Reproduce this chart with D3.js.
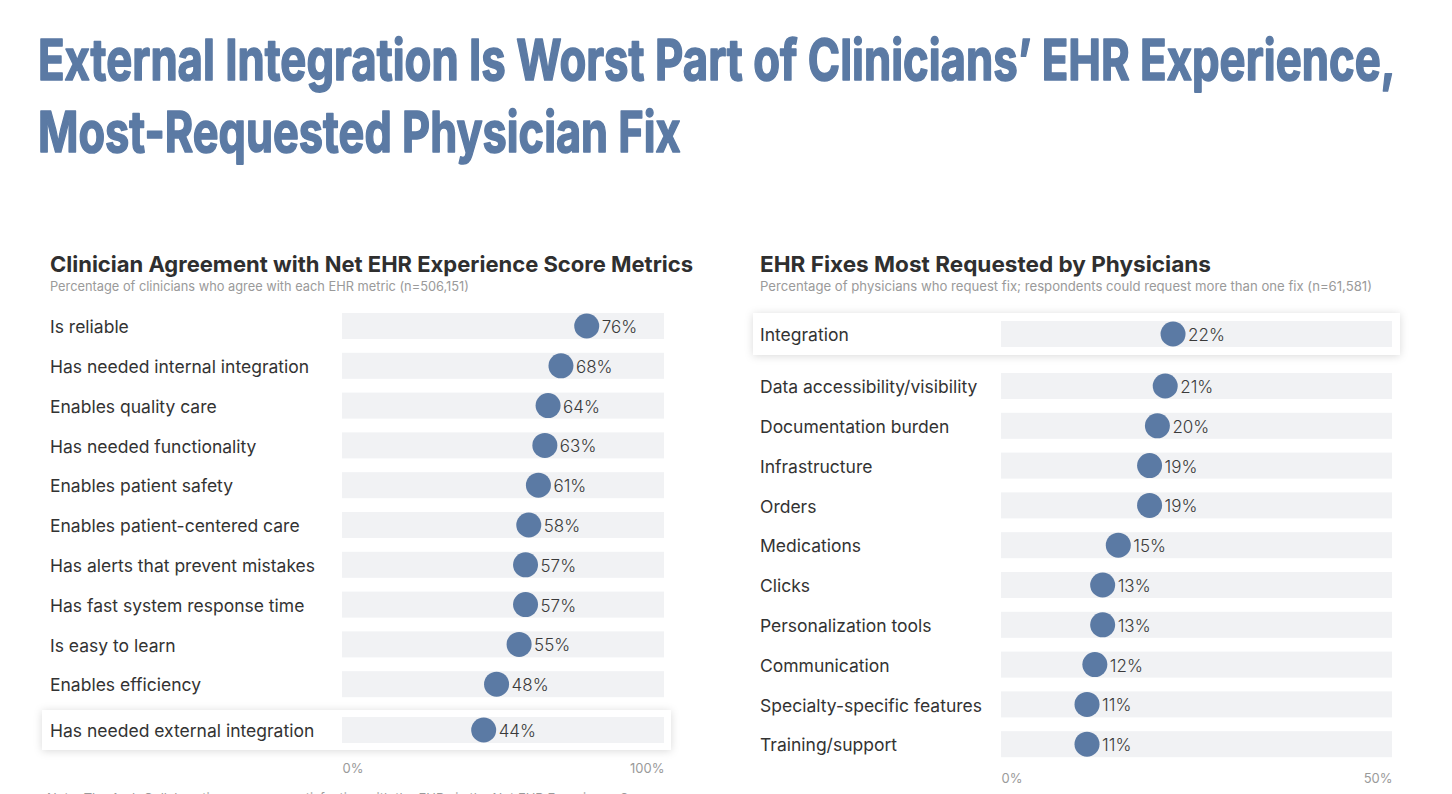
<!DOCTYPE html>
<html>
<head>
<meta charset="utf-8">
<script src="https://cdn.jsdelivr.net/npm/d3@7"></script>
<style>
  body { margin: 0; background: #fff; }
  svg text { font-family: Inter, Roboto, sans-serif; }
</style>
</head>
<body>
<svg id="chart" width="1452" height="794"></svg>
<script>
const leftLabels = ["Is reliable", "Has needed internal integration", "Enables quality care", "Has needed functionality",
  "Enables patient safety", "Enables patient-centered care", "Has alerts that prevent mistakes",
  "Has fast system response time", "Is easy to learn", "Enables efficiency", "Has needed external integration"];
const leftValues = [76, 68, 64, 63, 61, 58, 57, 57, 55, 48, 44];
const leftTicks = [0, 100];

const rightLabels = ["Integration", "Data accessibility/visibility", "Documentation burden", "Infrastructure", "Orders",
  "Medications", "Clicks", "Personalization tools", "Communication", "Specialty-specific features", "Training/support"];
const rightValues = [22, 21, 20, 19, 19, 15, 13, 13, 12, 11, 11];
const rightTicks = [0, 50];

const blue = "#5b7aa4";
const svg = d3.select("#chart");

const defs = svg.append("defs");
const f = defs.append("filter").attr("id", "shadow").attr("x", "-5%").attr("y", "-50%").attr("width", "110%").attr("height", "200%");
f.append("feDropShadow").attr("dx", 0).attr("dy", 1).attr("stdDeviation", 4).attr("flood-color", "#000").attr("flood-opacity", 0.15);

// squeeze/stretch text to a given width
function fit(sel, w) {
  sel.attr("textLength", w).attr("lengthAdjust", "spacingAndGlyphs");
}

// main title, scaled horizontally to the source width
const title = svg.append("g").attr("fill", blue).attr("stroke", blue).attr("stroke-width", 1.6)
  .attr("stroke-linejoin", "round")
  .style("font-weight", "bold").style("font-size", "57px")
  .style("font-family", "'Liberation Sans Narrow', sans-serif");
function titleLine(txt, y, w) {
  const t = title.append("text").attr("x", 0).attr("y", 0).text(txt);
  const sx = w / t.node().getComputedTextLength();
  t.attr("transform", `translate(38,${y}) scale(${sx},1)`);
}
titleLine("External Integration Is Worst Part of Clinicians’ EHR Experience,", 80, 1358);
titleLine("Most-Requested Physician Fix", 152, 643);

function panel(cfg) {
  const g = svg.append("g");
  g.append("text").attr("x", cfg.x0).attr("y", 272).attr("fill", "#2f2f2f")
    .style("font-size", "22px").style("font-weight", "bold").text(cfg.title).call(fit, cfg.titleW);
  g.append("text").attr("x", cfg.x0).attr("y", 291).attr("fill", "#9a9a9a")
    .style("font-size", "13px").text(cfg.sub).call(fit, cfg.subW);

  const x = d3.scaleLinear().domain(d3.extent(cfg.ticks)).range([cfg.bx0, cfg.bx1]);
  const rows = cfg.labels.map((l, i) => ({ label: l, value: cfg.values[i], y: cfg.y(i), hi: i === cfg.hi }));

  // highlight box behind the called-out row
  const h = rows.find(r => r.hi);
  g.append("rect").attr("x", cfg.hx0).attr("width", cfg.hx1 - cfg.hx0)
    .attr("y", h.y - cfg.hh / 2).attr("height", cfg.hh)
    .attr("fill", "#fff").attr("filter", "url(#shadow)");

  const row = g.selectAll(".row").data(rows).enter().append("g").attr("class", "row");
  row.append("rect").attr("x", x(cfg.ticks[0])).attr("width", x(cfg.ticks[1]) - x(cfg.ticks[0]))
    .attr("y", d => d.y - 13).attr("height", 26).attr("fill", "#f1f2f4");
  row.append("text").attr("x", cfg.x0).attr("y", d => d.y + 1).attr("dy", "0.35em")
    .attr("fill", "#333").style("font-size", "17.5px").text(d => d.label);
  row.append("circle").attr("cx", d => x(d.value)).attr("cy", d => d.y).attr("r", 12.5).attr("fill", blue);
  row.append("text").attr("x", d => x(d.value) + 15).attr("y", d => d.y + 1).attr("dy", "0.35em")
    .attr("fill", "#3a3a3a").style("font-size", "17px").style("font-weight", 300).text(d => d.value + "%");

  const axis = g.append("g").attr("transform", `translate(0,${cfg.axisY})`)
    .call(d3.axisBottom(x).tickValues(cfg.ticks).tickSize(0).tickFormat(d => d + "%"));
  axis.select(".domain").remove();
  axis.selectAll("text").attr("fill", "#9a9a9a").style("font-size", "13px")
    .style("font-family", "Inter, Roboto, sans-serif")
    .attr("text-anchor", (d, i) => i === 0 ? "start" : "end");
}

panel({
  x0: 50, title: "Clinician Agreement with Net EHR Experience Score Metrics", titleW: 643,
  sub: "Percentage of clinicians who agree with each EHR metric (n=506,151)", subW: 419,
  labels: leftLabels, values: leftValues, ticks: leftTicks,
  bx0: 342, bx1: 664, y: i => i < 10 ? 326 + 39.8 * i : 730, hi: 10,
  hx0: 42, hx1: 671, hh: 40, axisY: 761
});

panel({
  x0: 760, title: "EHR Fixes Most Requested by Physicians", titleW: 451,
  sub: "Percentage of physicians who request fix; respondents could request more than one fix (n=61,581)", subW: 612,
  labels: rightLabels, values: rightValues, ticks: rightTicks,
  bx0: 1001, bx1: 1392, y: i => i === 0 ? 334 : 386 + 39.8 * (i - 1), hi: 0,
  hx0: 753, hx1: 1400, hh: 42, axisY: 771
});

// note line, cut by the bottom edge as in the source
svg.append("text").attr("x", 47).attr("y", 803).attr("fill", "#9a9a9a").style("font-size", "13px")
  .text("Note: The Arch Collaborative measures satisfaction with the EHR via the Net EHR Experience Score");
</script>
</body>
</html>
